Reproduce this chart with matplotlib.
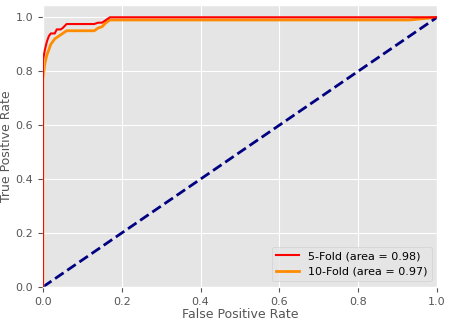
import matplotlib
matplotlib.use("Agg")
import matplotlib.pyplot as plt

plt.style.use("ggplot")

fpr5 = [0.0, 0.0, 0.005, 0.01, 0.015, 0.02, 0.03, 0.035, 0.045, 0.05, 0.06, 0.07, 0.13, 0.14, 0.15, 0.16, 0.17, 1.0]
tpr5 = [0.0, 0.84, 0.88, 0.91, 0.93, 0.94, 0.94, 0.955, 0.955, 0.96, 0.975, 0.975, 0.975, 0.98, 0.98, 0.99, 1.0, 1.0]
fpr10 = [0.0, 0.0, 0.005, 0.01, 0.02, 0.03, 0.04, 0.05, 0.06, 0.08, 0.13, 0.14, 0.15, 0.16, 0.17, 0.93, 1.0]
tpr10 = [0.0, 0.77, 0.83, 0.86, 0.90, 0.92, 0.93, 0.94, 0.95, 0.95, 0.95, 0.96, 0.965, 0.98, 0.99, 0.99, 1.0]
labels = ["5-Fold (area = 0.98)", "10-Fold (area = 0.97)"]
diag = [0.0, 1.0]

fig = plt.figure(figsize=(4.52, 3.22), dpi=100)
ax = fig.add_axes([0.095, 0.109, 0.872, 0.875])
ax.plot(fpr10, tpr10, color="darkorange", lw=2, label=labels[1], zorder=2)
ax.plot(fpr5, tpr5, color="red", lw=1.5, label=labels[0], zorder=3)
ax.plot(diag, diag, color="navy", lw=2, linestyle="--")
ax.set_xlim(0.0, 1.0)
ax.set_ylim(0.0, 1.045)
ax.set_xticks([0.0, 0.2, 0.4, 0.6, 0.8, 1.0])
ax.set_yticks([0.0, 0.2, 0.4, 0.6, 0.8, 1.0])
ax.tick_params(labelsize=8)
ax.set_xlabel("False Positive Rate", fontsize=9, labelpad=1)
ax.set_ylabel("True Positive Rate", fontsize=9, labelpad=2)
handles, labs = ax.get_legend_handles_labels()
ax.legend([handles[1], handles[0]], [labs[1], labs[0]], loc="lower right", fontsize=8)
fig.savefig("out.png", dpi=100)
